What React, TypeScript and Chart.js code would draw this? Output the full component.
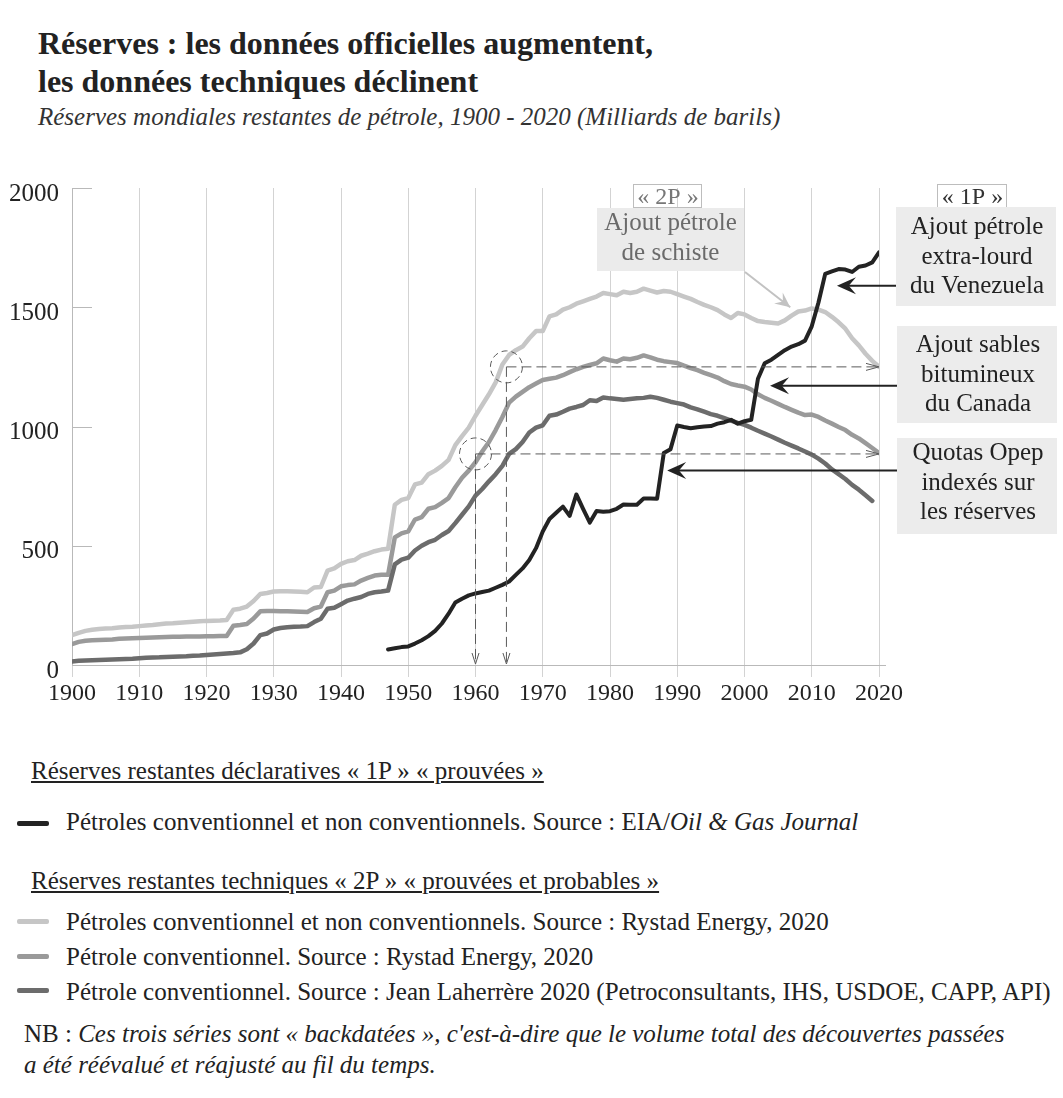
import React, { useEffect, useRef } from "react";
import { Chart, registerables } from "chart.js";

Chart.register(...registerables);

const FONT = '"Liberation Serif", "Times New Roman", Times, serif';

// ---------- axes ----------
const X_MIN = 1900;
const X_MAX = 2020;
const X_STEP = 10;
const Y_MIN = 0;
const Y_MAX = 2000;
const Y_STEP = 500;
const Y_TICKS = [500, 1000, 1500, 2000];

// ---------- series (billions of barrels) ----------
// Rystad Energy, conventional + unconventional (2P), 1900 -> 2020
const START_RYSTAD = 1900;
const RYSTAD_TOTAL = [
  125, 135, 143, 148, 151, 153, 154, 157, 159, 160,
  163, 166, 168, 171, 174, 175, 177, 179, 181, 183,
  185, 186, 187, 189, 232, 236, 245, 268, 298, 302,
  308, 309, 309, 308, 307, 305, 325, 327, 396, 405,
  424, 435, 440, 458, 467, 477, 484, 487, 672, 692,
  700, 757, 765, 800, 815, 835, 860, 922, 960, 995,
  1045, 1090, 1135, 1185, 1260, 1300, 1320, 1335, 1370, 1400,
  1400, 1462, 1470, 1490, 1500, 1515, 1525, 1535, 1545, 1560,
  1555, 1550, 1565, 1560, 1565, 1578, 1570, 1562, 1568, 1565,
  1555, 1545, 1535, 1522, 1510, 1500, 1488, 1470, 1455, 1476,
  1470, 1455, 1442, 1438, 1435, 1432, 1445, 1465, 1482, 1486,
  1495, 1490, 1480, 1460, 1437, 1410, 1370, 1340, 1305, 1275,
  1250,
];
// Rystad Energy, conventional only (2P), 1900 -> 2020
const RYSTAD_CONV = [
  88, 97, 102, 104, 105, 106, 107, 110, 111, 112,
  113, 114, 115, 116, 117, 118, 118, 119, 120, 120,
  121, 121, 122, 122, 165, 168, 172, 195, 225, 226,
  226, 225, 225, 224, 223, 222, 238, 245, 305, 312,
  330, 335, 338, 354, 365, 375, 378, 378, 535, 552,
  560, 610, 620, 655, 662, 680, 700, 745, 785, 815,
  850, 895, 935, 985, 1040, 1100, 1125, 1145, 1165, 1180,
  1195, 1200, 1205, 1215, 1228, 1240, 1250, 1258, 1265, 1285,
  1278, 1272, 1285, 1282, 1288, 1298, 1290, 1280, 1274, 1270,
  1266, 1255, 1245, 1236, 1225, 1215, 1205, 1190, 1178, 1172,
  1167, 1155, 1135, 1120, 1108, 1095, 1082, 1070, 1058, 1048,
  1050, 1040, 1025, 1012, 998, 985, 965, 950, 930, 910,
  889,
];
// Jean Laherrère, conventional (2P), 1900 -> 2019
const START_LAHERRERE = 1900;
const LAHERRERE = [
  15, 18, 19, 20, 21, 22, 23, 24, 25, 26,
  28, 30, 31, 32, 34, 35, 36, 37, 39, 40,
  42, 44, 46, 48, 50, 53, 66, 90, 125, 132,
  149, 155, 158, 160, 161, 163, 180, 194, 236, 240,
  255, 270, 278, 285, 298, 305, 308, 312, 422, 442,
  450, 480, 500, 515, 525, 545, 562, 595, 630, 665,
  710, 738, 770, 800, 835, 885, 905, 935, 975, 995,
  1005, 1045, 1050, 1062, 1075, 1082, 1090, 1110, 1107, 1122,
  1118, 1115, 1112, 1115, 1118, 1120, 1125, 1120, 1112, 1104,
  1098, 1092, 1080, 1072, 1062, 1052, 1045, 1035, 1025, 1015,
  1007, 995, 982, 970, 958, 945, 932, 920, 908, 895,
  882, 865, 845, 820, 800, 780, 755, 735, 712, 688,
];
// EIA / Oil & Gas Journal, proven (1P), 1947 -> 2020
const START_EIA = 1947;
const EIA_1P = [
  65, 70, 75, 78, 90, 104, 121, 143, 174, 215,
  262, 278, 292, 300, 306, 312, 324, 336, 350, 378,
  405, 440, 490, 560, 612, 638, 664, 625, 715, 655,
  597, 646, 643, 645, 655, 673, 672, 672, 698, 698,
  697, 889, 905, 1004, 998, 993, 997, 1000, 1002, 1012,
  1018, 1028, 1012, 1022, 1028, 1200, 1265, 1280, 1300, 1320,
  1335, 1345, 1360, 1420, 1520, 1640, 1650, 1660, 1658, 1648,
  1670, 1675, 1688, 1730,
];

// ---------- annotation anchors (data coordinates) ----------
const GUIDE_YEARS = [1960, 1964.6];
const GUIDE_VALUES = [885, 1250];
const GUIDE_END_YEAR = 2020;
const ARROW_TIP_YEARS = [2013.75, 2003.8, 1988.5];
const ARROW_VALUES = [1590, 1171, 815];
const SHALE_TIP = { year: 2006.8, value: 1500 };

// ---------- texts ----------
const TITLE_1 = "Réserves : les données officielles augmentent,";
const TITLE_2 = "les données techniques déclinent";
const SUBTITLE =
  "Réserves mondiales restantes de pétrole, 1900 - 2020 (Milliards de barils)";
const BOX_LINES = [
  ["Ajout pétrole", "extra-lourd", "du Venezuela"],
  ["Ajout sables", "bitumineux", "du Canada"],
  ["Quotas Opep", "indexés sur", "les réserves"],
];
const SHALE_LINES = ["Ajout pétrole", "de schiste"];

const COLORS = {
  eia: "#232323",
  total: "#c6c6c6",
  conv: "#9a9a9a",
  lah: "#6c6c6c",
};

// ---------- layout (page pixels) ----------
const CANVAS_TOP = 160;
const CANVAS_H = 560;
const BOXES = [
  { x: 896, y: 207, w: 160, h: 99, base: [234, 263.5, 293] },
  { x: 897, y: 326, w: 160, h: 97, base: [352, 381.5, 411] },
  { x: 897, y: 438, w: 160, h: 96, base: [460, 489.5, 519] },
];
const SHALE_BOX = { x: 597, y: 208, w: 147, h: 63, base: [230, 259.5] };
const TAGS = [
  { text: "« 2P »", x: 633, y: 184, w: 68, h: 23, base: 204, color: "#777" },
  { text: "« 1P »", x: 937, y: 184, w: 69, h: 23, base: 204, color: "#333" },
];

function toPoints(start: number, values: number[]) {
  return values.map((v, i) => ({ x: start + i, y: v }));
}

function filledArrow(
  ctx: CanvasRenderingContext2D,
  fx: number,
  fy: number,
  tx: number,
  ty: number,
  len: number,
  half: number
) {
  const a = Math.atan2(ty - fy, tx - fx);
  ctx.save();
  ctx.translate(tx, ty);
  ctx.rotate(a);
  ctx.beginPath();
  ctx.moveTo(0, 0);
  ctx.lineTo(-len, -half);
  ctx.lineTo(-len * 0.62, 0);
  ctx.lineTo(-len, half);
  ctx.closePath();
  ctx.fill();
  ctx.restore();
}

function openArrow(
  ctx: CanvasRenderingContext2D,
  tx: number,
  ty: number,
  angle: number,
  len: number,
  half: number
) {
  ctx.save();
  ctx.translate(tx, ty);
  ctx.rotate(angle);
  ctx.setLineDash([]);
  ctx.beginPath();
  ctx.moveTo(-len, -half);
  ctx.lineTo(0, 0);
  ctx.lineTo(-len, half);
  ctx.stroke();
  ctx.restore();
}

const decorPlugin = {
  id: "decor",
  beforeDatasetsDraw(chart: any) {
    const { ctx, chartArea } = chart;
    const ys = chart.scales.y;
    ctx.save();
    ctx.strokeStyle = "#b9b9b9";
    ctx.lineWidth = 1;
    ctx.beginPath();
    const y0 = Math.round(ys.getPixelForValue(0)) + 0.5;
    ctx.moveTo(chartArea.left, y0);
    ctx.lineTo(chartArea.right + 7, y0);
    Y_TICKS.forEach((v) => {
      const py = Math.round(ys.getPixelForValue(v)) + 0.5;
      ctx.moveTo(chartArea.left, py);
      ctx.lineTo(chartArea.left + 20, py);
    });
    ctx.stroke();
    ctx.restore();
  },
  afterDatasetsDraw(chart: any) {
    const { ctx } = chart;
    const xs = chart.scales.x;
    const ys = chart.scales.y;
    const oy = CANVAS_TOP;
    ctx.save();

    // dashed guides
    ctx.strokeStyle = "#5a5a5a";
    ctx.lineWidth = 1;
    GUIDE_YEARS.forEach((yr, i) => {
      const px = xs.getPixelForValue(yr);
      const py = ys.getPixelForValue(GUIDE_VALUES[i]);
      const pBottom = ys.getPixelForValue(0);
      const pRight = xs.getPixelForValue(GUIDE_END_YEAR);
      ctx.setLineDash([10, 5]);
      ctx.beginPath();
      ctx.moveTo(px, py);
      ctx.lineTo(px, pBottom - 1);
      ctx.moveTo(px, py);
      ctx.lineTo(pRight, py);
      ctx.stroke();
      openArrow(ctx, px, pBottom - 1, Math.PI / 2, 11, 3.5);
      openArrow(ctx, pRight, py, 0, 13, 3.5);
      ctx.setLineDash([6, 4]);
      ctx.beginPath();
      ctx.arc(px, py, 16, 0, Math.PI * 2);
      ctx.stroke();
    });
    ctx.setLineDash([]);

    // shale box + arrow
    ctx.fillStyle = "#ebebeb";
    ctx.fillRect(SHALE_BOX.x, SHALE_BOX.y - oy, SHALE_BOX.w, SHALE_BOX.h);
    ctx.font = `25px ${FONT}`;
    ctx.textAlign = "center";
    ctx.textBaseline = "alphabetic";
    ctx.fillStyle = "#6a6a6a";
    SHALE_LINES.forEach((t, i) => {
      ctx.fillText(t, SHALE_BOX.x + SHALE_BOX.w / 2, SHALE_BOX.base[i] - oy);
    });
    {
      const fx = SHALE_BOX.x + SHALE_BOX.w + 1;
      const fy = SHALE_BOX.y + SHALE_BOX.h + 1 - oy;
      const tx = xs.getPixelForValue(SHALE_TIP.year);
      const ty = ys.getPixelForValue(SHALE_TIP.value);
      ctx.strokeStyle = "#c2c2c2";
      ctx.fillStyle = "#c2c2c2";
      ctx.lineWidth = 2;
      ctx.beginPath();
      ctx.moveTo(fx, fy);
      ctx.lineTo(tx, ty);
      ctx.stroke();
      filledArrow(ctx, fx, fy, tx, ty, 15, 7);
    }

    // tags
    TAGS.forEach((t) => {
      ctx.strokeStyle = "#bdbdbd";
      ctx.lineWidth = 1;
      ctx.strokeRect(t.x + 0.5, t.y - oy + 0.5, t.w, t.h);
      ctx.fillStyle = t.color;
      ctx.font = `24px ${FONT}`;
      ctx.fillText(t.text, t.x + t.w / 2 + 1, t.base - oy);
    });

    // right boxes + arrows
    BOXES.forEach((b, i) => {
      ctx.fillStyle = "#ececec";
      ctx.fillRect(b.x, b.y - oy, b.w, b.h);
      ctx.fillStyle = "#222";
      ctx.font = `25px ${FONT}`;
      BOX_LINES[i].forEach((t, j) => {
        ctx.fillText(t, b.x + b.w / 2 + 1, b.base[j] - oy);
      });
      const ty = ys.getPixelForValue(ARROW_VALUES[i]);
      const tx = xs.getPixelForValue(ARROW_TIP_YEARS[i]);
      ctx.strokeStyle = "#222";
      ctx.lineWidth = 2;
      ctx.beginPath();
      ctx.moveTo(b.x, ty);
      ctx.lineTo(tx + 8, ty);
      ctx.stroke();
      filledArrow(ctx, b.x, ty, tx, ty, 19, 8.5);
    });

    ctx.restore();
  },
};

function LegendLine({ color, top }: { color: string; top: number }) {
  return (
    <div
      style={{
        position: "absolute",
        left: 17,
        top: top - 2,
        width: 32,
        height: 4.5,
        borderRadius: 2,
        background: color,
      }}
    />
  );
}

export default function App() {
  const ref = useRef<HTMLCanvasElement | null>(null);

  useEffect(() => {
    if (!ref.current) return;
    const mk = (data: any[], color: string, width: number) => ({
      data,
      borderColor: color,
      backgroundColor: color,
      borderWidth: width,
      pointRadius: 0,
      tension: 0,
      fill: false,
      borderCapStyle: "round",
      borderJoinStyle: "round",
    });
    const chart = new Chart(ref.current, {
      type: "line",
      data: {
        datasets: [
          mk(toPoints(START_EIA, EIA_1P), COLORS.eia, 4),
          mk(toPoints(START_LAHERRERE, LAHERRERE), COLORS.lah, 4.5),
          mk(toPoints(START_RYSTAD, RYSTAD_CONV), COLORS.conv, 4.5),
          mk(toPoints(START_RYSTAD, RYSTAD_TOTAL), COLORS.total, 4.5),
        ] as any,
      },
      options: {
        animation: false,
        responsive: false,
        events: [],
        layout: { padding: { top: 25, right: 184, bottom: 0, left: 0 } },
        plugins: { legend: { display: false }, tooltip: { enabled: false } },
        scales: {
          x: {
            type: "linear",
            min: X_MIN,
            max: X_MAX,
            afterFit: (s: any) => {
              s.height = 55;
            },
            ticks: {
              stepSize: X_STEP,
              autoSkip: false,
              maxRotation: 0,
              callback: (v: any) => String(v),
              font: { family: FONT, size: 24 },
              color: "#222",
              padding: 2,
            },
            grid: { color: "#d3d3d3", lineWidth: 1, tickLength: 12, drawTicks: true },
            border: { display: false },
          },
          y: {
            min: Y_MIN,
            max: Y_MAX,
            afterFit: (s: any) => {
              s.width = 72;
            },
            ticks: {
              stepSize: Y_STEP,
              callback: (v: any) => String(v),
              font: { family: FONT, size: 25 },
              color: "#222",
              padding: 13,
              labelOffset: 6,
            },
            grid: { display: false, drawTicks: false },
            border: { display: true, color: "#b9b9b9", width: 1 },
          },
        },
      },
      plugins: [decorPlugin as any],
    });
    return () => chart.destroy();
  }, []);

  const txt = { position: "absolute" as const, whiteSpace: "nowrap" as const };
  const LEG = 25;

  return (
    <div
      style={{
        position: "absolute",
        left: 0,
        top: 0,
        width: 1063,
        height: 1098,
        background: "#fff",
        fontFamily: FONT,
        color: "#222",
        overflow: "hidden",
      }}
    >
      <div style={{ ...txt, left: 38, top: 24, fontSize: 32, fontWeight: "bold", lineHeight: "38px" }}>
        {TITLE_1}
        <br />
        {TITLE_2}
      </div>
      <div style={{ ...txt, left: 38, top: 102, fontSize: 25, fontStyle: "italic", lineHeight: "30px", color: "#333" }}>
        {SUBTITLE}
      </div>

      <canvas
        ref={ref}
        width={1063}
        height={CANVAS_H}
        style={{ position: "absolute", left: 0, top: CANVAS_TOP, width: 1063, height: CANVAS_H }}
      />

      <div style={{ ...txt, left: 31, top: 756, fontSize: LEG, lineHeight: "30px", textDecoration: "underline" }}>
        Réserves restantes déclaratives « 1P » « prouvées »
      </div>
      <LegendLine color={COLORS.eia} top={823} />
      <div style={{ ...txt, left: 66, top: 807, fontSize: LEG, lineHeight: "30px" }}>
        Pétroles conventionnel et non conventionnels. Source : EIA/<i>Oil &amp; Gas Journal</i>
      </div>

      <div style={{ ...txt, left: 31, top: 866, fontSize: LEG, lineHeight: "30px", textDecoration: "underline" }}>
        Réserves restantes techniques « 2P » « prouvées et probables »
      </div>
      <LegendLine color={COLORS.total} top={921} />
      <div style={{ ...txt, left: 66, top: 907, fontSize: LEG, lineHeight: "30px" }}>
        Pétroles conventionnel et non conventionnels. Source : Rystad Energy, 2020
      </div>
      <LegendLine color={COLORS.conv} top={956} />
      <div style={{ ...txt, left: 66, top: 942, fontSize: LEG, lineHeight: "30px" }}>
        Pétrole conventionnel. Source : Rystad Energy, 2020
      </div>
      <LegendLine color={COLORS.lah} top={990} />
      <div style={{ ...txt, left: 66, top: 977, fontSize: LEG, lineHeight: "30px" }}>
        Pétrole conventionnel. Source : Jean Laherrère 2020 (Petroconsultants, IHS, USDOE, CAPP, API)
      </div>

      <div style={{ ...txt, left: 24, top: 1018, fontSize: LEG, lineHeight: "31px" }}>
        NB : <i>Ces trois séries sont « backdatées », c'est-à-dire que le volume total des découvertes passées</i>
        <br />
        <i>a été réévalué et réajusté au fil du temps.</i>
      </div>
    </div>
  );
}
